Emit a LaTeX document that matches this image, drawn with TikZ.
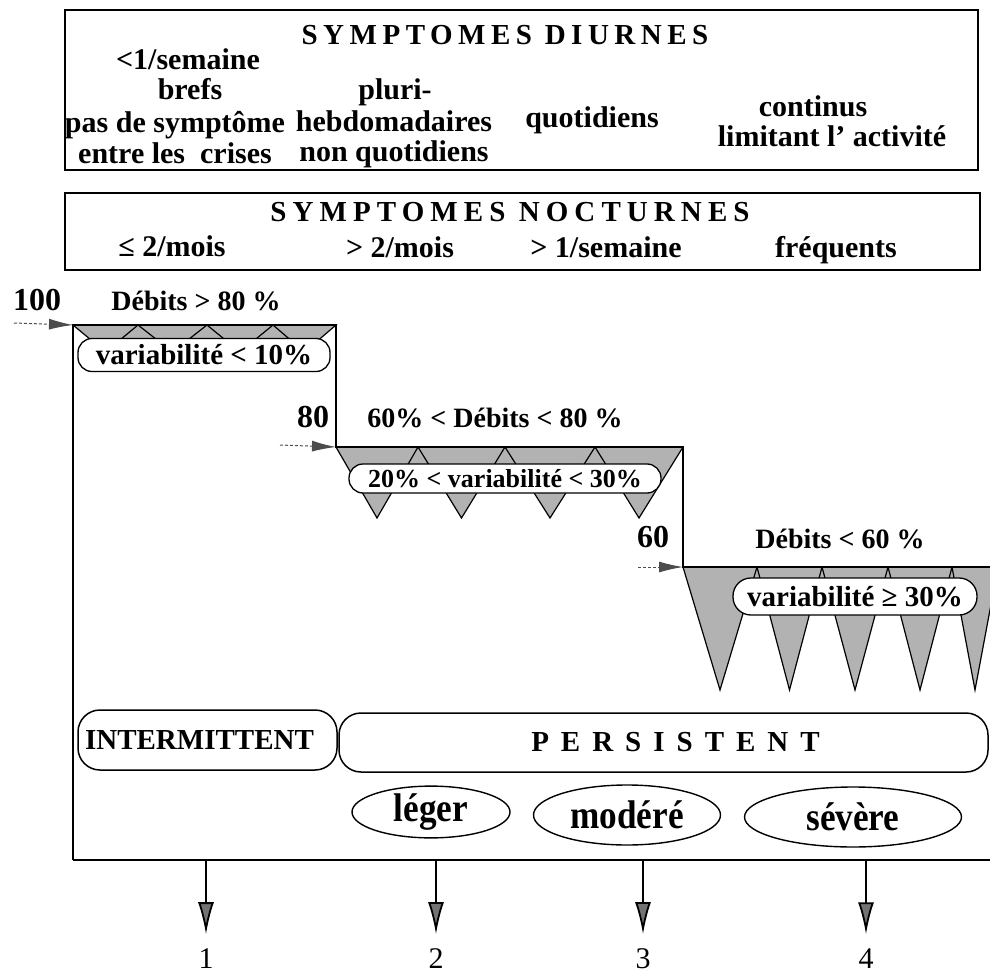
\documentclass[tikz,border=0pt]{standalone}
\usepackage{fontspec}
\usepackage{graphicx}
\setmainfont{Liberation Serif}
\newfontfamily\trackA{Liberation Serif}[LetterSpace=19]
\newfontfamily\trackB{Liberation Serif}[LetterSpace=21]
\usetikzlibrary{arrows.meta,shapes.geometric}
\newcommand{\narrowtxt}[1]{\scalebox{0.88}[1]{#1}}
\begin{document}
\begin{tikzpicture}[x=1pt,y=-1pt,
  every node/.style={inner sep=0pt, outer sep=0pt},
  txt/.style={font=\fontsize{30}{31}\selectfont\bfseries, anchor=base},
  lbl/.style={font=\fontsize{28}{30}\selectfont\bfseries, anchor=base},
  big/.style={font=\fontsize{32}{34}\selectfont\bfseries, anchor=base},
  ttlA/.style={font=\trackA\bfseries\fontsize{29}{30}\selectfont, anchor=base},
  ttlB/.style={font=\trackB\bfseries\fontsize{29}{30}\selectfont, anchor=base},
  hbox/.style={draw, line width=1.3pt, anchor=north west},
  band/.style={fill=black!30},
  tri/.style={fill=black!30, draw=black, line width=1.2pt, line join=miter},
  outl/.style={line width=2.4pt, line join=miter},
  pill/.style={draw, fill=white, line width=1.3pt, rounded corners=14pt,
    font=\fontsize{29}{30}\selectfont\bfseries},
  cat/.style={draw, fill=white, line width=1.5pt, rounded corners=22pt,
    font=\fontsize{29}{30}\selectfont\bfseries},
  ell/.style={ellipse, draw, line width=1.4pt, font=\fontsize{40}{42}\selectfont\bfseries},
  num/.style={font=\fontsize{30}{32}\selectfont, anchor=base},
  smallarrow/.style={line width=1pt, draw=black!70, densely dashed,
    -{Latex[length=24pt,width=11pt,fill=black!70]}},
  bigarrow/.style={line width=1.8pt,
    -{Latex[length=32pt,width=16pt,fill=black!55]}}
]
\useasboundingbox (0,0) rectangle (990,976);

% ---------- header boxes ----------
\node[hbox, minimum width=913pt, minimum height=160pt] (diur) at (65,10) {};
\node[hbox, minimum width=915pt, minimum height=77pt] (noct) at (65,193) {};

\node[ttlA] (tD) at (505,45) {SYMPTOMES DIURNES};
\node[txt] (d1a) at (188,70) {<1/semaine};
\node[txt] (d1b) at (190,100) {brefs};
\node[txt] (d1c) at (175,133) {pas de symptôme};
\node[txt] (d1d) at (175,164) {entre les\ \ crises};
\node[txt] (d2a) at (395,100) {pluri-};
\node[txt] (d2b) at (394,132) {hebdomadaires};
\node[txt] (d2c) at (394,162) {non quotidiens};
\node[txt] (d3) at (592,128) {quotidiens};
\node[txt] (d4a) at (813,117) {continus};
\node[txt] (d4b) at (832,147) {limitant l' activité};

\node[ttlB] (tN) at (510,222) {SYMPTOMES NOCTURNES};
\node[txt] (n1) at (172,257) {≤ 2/mois};
\node[txt] (n2) at (400,258) {> 2/mois};
\node[txt] (n3) at (606,258) {> 1/semaine};
\node[txt] (n4) at (836,258) {fréquents};

% ---------- step corners ----------
\coordinate (c1) at (73,325);
\coordinate (c2) at (336,325);
\coordinate (c3) at (336,447);
\coordinate (c4) at (683,447);
\coordinate (c5) at (683,567);
\coordinate (c6) at (990,567);
\coordinate (c7) at (990,860);
\coordinate (c0) at (73,860);

% ---------- variability bands and triangles ----------
\fill[band] (73,325) -- (336,325) -- (312.7,345) -- (97,345) -- cycle;
\foreach \a/\b in {73/138,138/207,207/273,273/336}
  \filldraw[tri] (\a,325) -- ({(\a+\b)/2},352) -- (\b,325) -- cycle;
\fill[band] (336,447) -- (683,447) -- (667.5,472) -- (350.4,472) -- cycle;
\foreach \a/\b in {336/418,418/505,505/595,595/683}
  \filldraw[tri] (\a,447) -- ({(\a+\b)/2},518) -- (\b,447) -- cycle;
\begin{scope}
  \clip (0,0) rectangle (990,976);
  \fill[band] (683,567) -- (995,567) -- (995,592) -- (690.5,592) -- cycle;
  \foreach \a/\b in {683/757,757/822,822/888,888/952,952/998}
    \filldraw[tri] (\a,567) -- ({(\a+\b)/2},690) -- (\b,567) -- cycle;
\end{scope}

% ---------- outline ----------
\draw[outl] (c0) -- (c1) -- (c2) -- (c3) -- (c4) -- (c5) -- (c6);
\draw[outl] (c0) -- (c7);

% ---------- level arrows and labels ----------
\coordinate (s100) at (14,323);
\coordinate (s80) at (280,445);
\coordinate (s60) at (638,567);
\draw[smallarrow] (s100) -- (c1);
\draw[smallarrow] (s80) -- (c3);
\draw[smallarrow] (s60) -- (c5);
\node[big] (l100) at (37,310) {100};
\node[big] (l80) at (313,427) {80};
\node[big] (l60) at (653,547) {60};
\node[lbl] (deb1) at (196,310) {Débits > 80 \%};
\node[lbl] (deb2) at (495,427) {60\% < Débits < 80 \%};
\node[lbl] (deb3) at (840,548) {Débits < 60 \%};

% ---------- variability pills ----------
\node[pill, minimum width=252pt, minimum height=33pt] (v1) at (204,355) {variabilité < 10\%};
\node[pill, minimum width=312pt, minimum height=29pt,
  font=\fontsize{26}{28}\selectfont\bfseries] (v2) at (505,478.5) {20\% < variabilité < 30\%};
\node[pill, minimum width=244pt, minimum height=37pt, rounded corners=18pt] (v3) at (855,596.5) {variabilité ≥ 30\%};

% ---------- categories ----------
\node[cat, minimum width=259pt, minimum height=60pt] (inter) at (207.5,740) {INTERMITTENT\hspace*{16pt}};
\node[cat, minimum width=649pt, minimum height=59pt] (pers) at (663.5,742.5)
  {\hspace*{24pt}\spaceskip=12pt P E R S I S T E N T};
\node[ell, minimum width=158pt, minimum height=51pt] (leg) at (431,812) {\narrowtxt{léger}};
\node[ell, minimum width=187pt, minimum height=60pt] (mod) at (627,815) {\narrowtxt{modéré}};
\node[ell, minimum width=217pt, minimum height=60pt] (sev) at (853,817) {\narrowtxt{sévère}};

% ---------- output arrows ----------
\node[num] (o1) at (206,968) {1};
\node[num] (o2) at (436,968) {2};
\node[num] (o3) at (643,968) {3};
\node[num] (o4) at (866,968) {4};
\coordinate (b1) at (206,860);
\coordinate (b2) at (436,860);
\coordinate (b3) at (643,860);
\coordinate (b4) at (866,860);
\draw[bigarrow, shorten >=14pt] (b1) -- (o1.north);
\draw[bigarrow, shorten >=14pt] (b2) -- (o2.north);
\draw[bigarrow, shorten >=14pt] (b3) -- (o3.north);
\draw[bigarrow, shorten >=14pt] (b4) -- (o4.north);
\end{tikzpicture}
\end{document}
